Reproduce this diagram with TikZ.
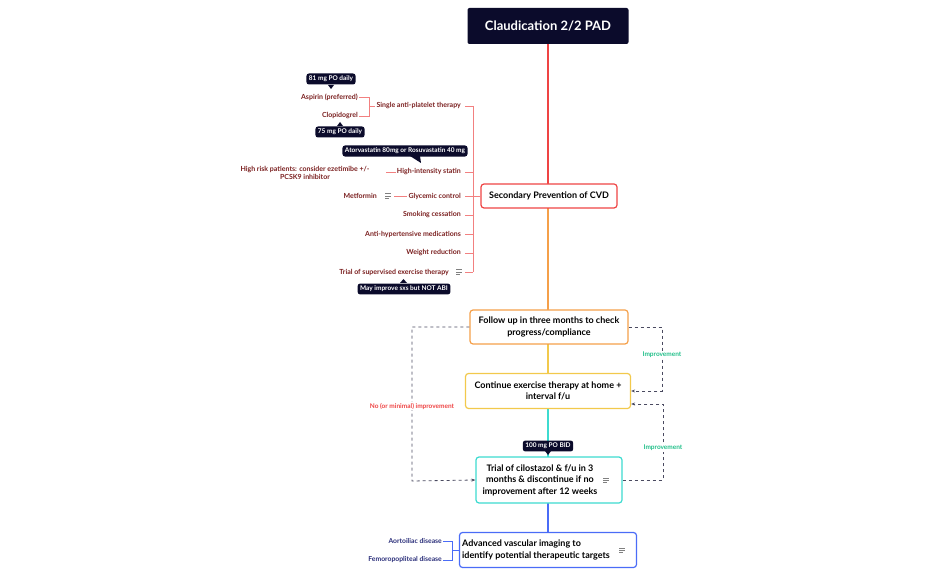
\documentclass[tikz,border=0pt]{standalone}
\usepackage{fontspec}
\setmainfont{Lato}
\usetikzlibrary{arrows.meta,calc}
\definecolor{navy}{HTML}{0B0B2B}
\definecolor{dred}{HTML}{7A1F1F}
\definecolor{bred}{HTML}{F28080}
\definecolor{cred}{HTML}{EF4444}
\definecolor{corange}{HTML}{F5A04A}
\definecolor{cyellow}{HTML}{F2C94C}
\definecolor{ccyan}{HTML}{3DDBD0}
\definecolor{cblue}{HTML}{4A6CF7}
\definecolor{dblue}{HTML}{2B2F7A}
\definecolor{cgreen}{HTML}{22C08A}
\definecolor{dash}{HTML}{4A4A60}
\tikzset{
 box/.style={draw,line width=1.2pt,rounded corners=3pt,fill=white,align=center,font=\fontsize{9}{11.5}\selectfont\bfseries,inner sep=3pt},
 lbl/.style={font=\fontsize{7}{8}\selectfont\bfseries,text=dred,inner sep=1pt},
 blbl/.style={font=\fontsize{6.8}{8}\selectfont\bfseries,text=dblue,inner sep=1pt},
 tag/.style={fill=navy,text=white,rounded corners=2.5pt,font=\fontsize{6.5}{7}\selectfont\bfseries,inner sep=2.5pt},
 br/.style={draw=bred,line width=0.8pt},
 loop/.style={draw=dash,dashed,line width=0.8pt,-{Stealth[length=4pt]}},
 note/.style={font=\fontsize{6.5}{7}\selectfont\bfseries,inner sep=1pt},
 vl/.style={line width=1.2pt},
 btxt/.style={font=\fontsize{9}{11.5}\selectfont\bfseries}
}
\newcommand{\noteicon}[1]{\draw[gray,line width=0.6pt] ($(#1)+(-3,-2.2)$)--+(6,0) ($(#1)+(-3,0)$)--+(6,0) ($(#1)+(-3,2.2)$)--+(3.5,0);}
\begin{document}
\begin{tikzpicture}[x=1pt,y=-1pt]
\useasboundingbox (0,0) rectangle (932,577);
\draw[cred,vl] (548,40) -- (548,186);
\draw[corange,vl] (548,206) -- (548,312);
\draw[cyellow,vl] (548,342) -- (548,376);
\draw[ccyan,vl] (548,407) -- (548,459);
\draw[cblue,vl] (548,501) -- (548,535);
\node[fill=navy,text=white,rounded corners=2pt,minimum width=161pt,minimum height=36pt,font=\fontsize{13}{14}\selectfont\bfseries] (title) at (548,26) {Claudication 2/2 PAD};
\node[box,draw=cred,minimum width=136pt,minimum height=24pt] (sec) at (549,196) {Secondary Prevention of CVD};
\node[box,draw=corange,minimum width=158pt,minimum height=34pt] (fu) at (549,327) {Follow up in three months to check\\progress/compliance};
\node[box,draw=cyellow,minimum width=165pt,minimum height=35pt] (ce) at (548,391) {Continue exercise therapy at home +\\interval f/u};
\node[box,draw=ccyan,minimum width=146pt,minimum height=46pt] (tc) at (549,480) {};
\node[btxt,align=center] at (540,480) {Trial of cilostazol \& f/u in 3\\months \& discontinue if no\\improvement after 12 weeks};
\node[box,draw=cblue,minimum width=177pt,minimum height=35pt] (av) at (548,550) {};
\node[btxt,align=left] at (536,550) {Advanced vascular imaging to\\identify potential therapeutic targets};
\noteicon{606,480}
\noteicon{622,550}
\coordinate (bus) at (473,196);
\draw[br] (473,106) -- (473,272);
\draw[br] (sec.west) -- (bus);
\node[lbl,anchor=east] (sap) at (462,106) {Single anti-platelet therapy};
\node[lbl,anchor=east] (his) at (462,172) {High-intensity statin};
\node[lbl,anchor=east] (gly) at (462,196) {Glycemic control};
\node[lbl,anchor=east] (smk) at (462,215) {Smoking cessation};
\node[lbl,anchor=east] (aht) at (462,234) {Anti-hypertensive medications};
\node[lbl,anchor=east] (wr) at (462,253) {Weight reduction};
\node[lbl,anchor=east] (tse) at (450,272) {Trial of supervised exercise therapy};
\noteicon{459,272}
\foreach \y in {106,172,196,215,234,253,272}{\draw[br] (465,\y) -- (473,\y);}
\node[lbl,anchor=east] (asp) at (359,97) {Aspirin (preferred)};
\node[lbl,anchor=east] (clo) at (359,116) {Clopidogrel};
\draw[br] (asp.east) -- (369,97) -- (369,116) -- (clo.east);
\draw[br] (369,106) -- (sap.west);
\node[tag] (t81) at (331,79) {81 mg PO daily};
\fill[navy] (328,85) -- (334,85) -- (331,89) -- cycle;
\node[tag] (t75) at (340,132) {75 mg PO daily};
\fill[navy] (337,126) -- (343,126) -- (340,122) -- cycle;
\node[tag] (tat) at (405,151) {Atorvastatin 80mg or Rosuvastatin 40 mg};
\fill[navy] (410,156) -- (420,156) -- (421,163) -- cycle;
\node[lbl,align=center] (hr) at (305,173) {High risk patients: consider ezetimibe +/-\\PCSK9 inhibitor};
\draw[br] (386,172) -- (his.west);
\node[lbl,anchor=east] (met) at (378,196) {Metformin};
\noteicon{388,196}
\draw[br] (394,196) -- (gly.west);
\node[tag] (tmay) at (404,289) {May improve sxs but NOT ABI};
\fill[navy] (400,283) -- (407,283) -- (403.5,279) -- cycle;
\node[tag] (t100) at (548,446) {100 mg PO BID};
\fill[navy] (545,451) -- (551,451) -- (548,455) -- cycle;
\draw[loop] (fu.east) -- (662,327) -- (662,391) -- (ce.east);
\node[note,text=cgreen,fill=white] at (662,355) {Improvement};
\draw[loop] (tc.east) -- (663,480) -- (663,404) -- ($(ce.east)+(0,13)$);
\node[note,text=cgreen,fill=white] at (663,448) {Improvement};
\draw[loop] (fu.west) -- (412,327) -- (412,481) -- (tc.west);
\node[note,text=cred,fill=white] at (412,406) {No (or minimal) improvement};
\node[blbl,anchor=east] (ao) at (443,541) {Aortoiliac disease};
\node[blbl,anchor=east] (fe) at (443,560) {Femoropopliteal disease};
\draw[cblue,line width=0.8pt] (ao.east) -- (452,541) -- (452,560) -- (fe.east);
\draw[cblue,line width=0.8pt] (452,550) -- (av.west);
\end{tikzpicture}
\end{document}
